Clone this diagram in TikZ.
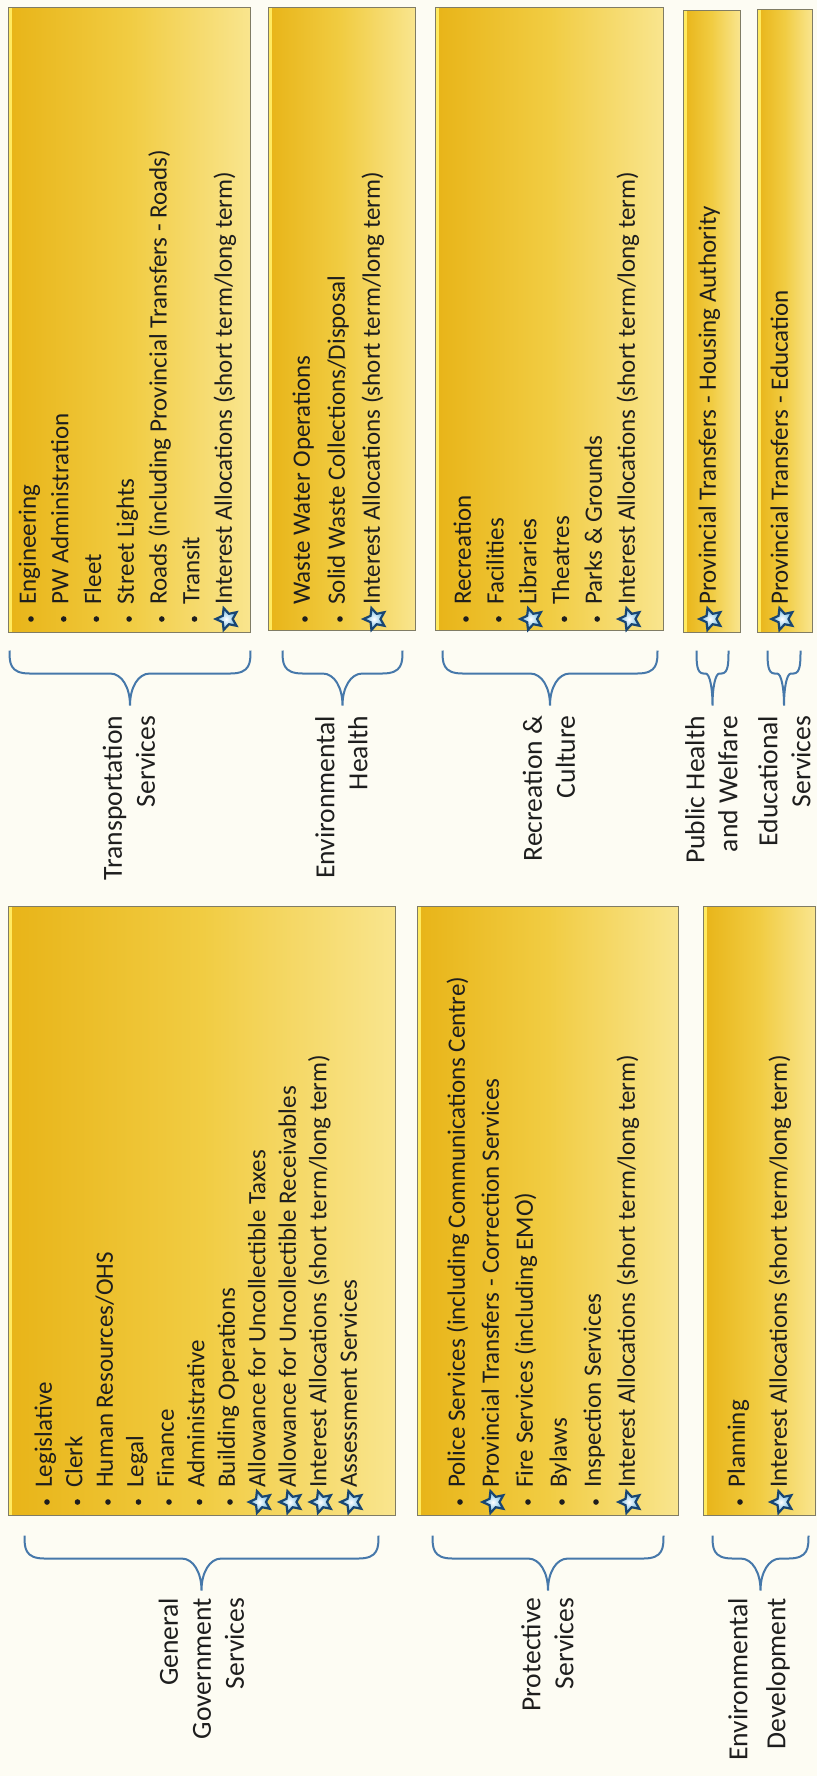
\documentclass[tikz,border=0pt]{standalone}
\usepackage{fontspec}
\setmainfont{Carlito}
\usepackage{xcolor}
\usetikzlibrary{shapes.geometric,fit,positioning,calc}

\definecolor{paper}{RGB}{253,252,243}
\definecolor{golddark}{RGB}{232,180,24}
\definecolor{goldmid}{RGB}{241,204,66}
\definecolor{goldlight}{RGB}{249,229,142}
\definecolor{goldhl}{RGB}{255,234,96}
\definecolor{boxline}{RGB}{128,124,100}
\definecolor{bracecol}{RGB}{70,120,170}
\definecolor{starline}{RGB}{25,70,115}
\definecolor{starfill}{RGB}{110,185,225}
\definecolor{ink}{RGB}{30,30,30}

\tikzset{
	gbox/.style={draw=boxline, line width=0.5pt, inner sep=0pt, left color=golddark, right color=goldlight, middle color=goldmid,
		path picture={\fill[goldhl] (path picture bounding box.north west) rectangle ([xshift=2pt]path picture bounding box.south west);}},
	itm/.style={rotate=90, anchor=mid west, inner sep=0pt, text=ink, font=\fontsize{12.5}{15}\selectfont},
	lbl/.style={rotate=90, align=right, inner sep=0pt, text=ink, font=\fontsize{13.8}{16.5}\selectfont},
	bul/.style={circle, fill=ink, minimum size=2.8pt, inner sep=0pt},
	strm/.style={star, star points=5, star point ratio=2.1, minimum size=11.5pt, inner sep=0pt, draw=starline, line width=1.1pt, inner color=white, outer color=starfill, shape border rotate=90},
	arm/.store in=\armlen, arm=20,
	brc/.style={draw=bracecol, line width=1pt, to path={
		.. controls +(0,12) and +(\armlen,0) .. ($(\tikztostart)+(-\armlen,23)$)
		-- ($(\tikztostart)!.5!(\tikztotarget)+(\armlen,23)$)
		.. controls +(-0.6*\armlen,0) and +(0,-18) .. ($(\tikztostart)!.5!(\tikztotarget)+(0,55)$)
		.. controls +(0,-18) and +(0.6*\armlen,0) .. ($(\tikztostart)!.5!(\tikztotarget)+(-\armlen,23)$)
		-- ($(\tikztotarget)+(\armlen,23)$)
		.. controls +(-\armlen,0) and +(0,12) .. (\tikztotarget)}}
}

\begin{document}
\begin{tikzpicture}[x=0.5pt, y=-0.5pt]
	\useasboundingbox (0,0) rectangle (817,1776);
	\fill[paper] (0,0) rectangle (817,1776);
	
	\node[gbox, fit={(8,8) (250,632)}] (trbox) {};
	\foreach \m/\t [count=\i from 0] in {bul/Engineering, bul/PW Administration, bul/Fleet, bul/Street Lights, bul/{Roads (including Provincial Transfers - Roads)}, bul/Transit, strm/{Interest Allocations (short term/long term)}}
		\node[itm] (tr\i) at (31+32.7*\i,605) {\t} node[\m] (trm\i) at (31+32.7*\i,619) {};
	
	\node[gbox, fit={(268,8) (415,630)}] (ehbox) {};
	\foreach \m/\t [count=\i from 0] in {bul/Waste Water Operations, bul/{Solid Waste Collections/Disposal}, strm/{Interest Allocations (short term/long term)}}
		\node[itm] (eh\i) at (305+35*\i,605) {\t} node[\m] (ehm\i) at (305+35*\i,619) {};
	
	\node[gbox, fit={(435,8) (663,630)}] (rcbox) {};
	\foreach \m/\t [count=\i from 0] in {bul/Recreation, bul/Facilities, strm/Libraries, bul/Theatres, bul/Parks \& Grounds, strm/{Interest Allocations (short term/long term)}}
		\node[itm] (rc\i) at (466+32.8*\i,605) {\t} node[\m] (rcm\i) at (466+32.8*\i,619) {};
	
	\node[gbox, fit={(683,11) (740,632)}] (phbox) {};
	\node[itm] (ph0) at (711,605) {Provincial Transfers - Housing Authority};
	\node[strm] (phm0) at (711,619) {};
	
	\node[gbox, fit={(757,10) (812,632)}] (edbox) {};
	\node[itm] (ed0) at (783,605) {Provincial Transfers - Education};
	\node[strm] (edm0) at (783,619) {};
	
	\node[gbox, fit={(8,906) (395,1515)}] (ggbox) {};
	\foreach \m/\t [count=\i from 0] in {bul/Legislative, bul/Clerk, bul/{Human Resources/OHS}, bul/Legal, bul/Finance, bul/Administrative, bul/Building Operations, strm/Allowance for Uncollectible Taxes, strm/Allowance for Uncollectible Receivables, strm/{Interest Allocations (short term/long term)}, strm/Assessment Services}
		\node[itm] (gg\i) at (47+30.5*\i,1488) {\t} node[\m] (ggm\i) at (47+30.5*\i,1502) {};
	
	\node[gbox, fit={(417,906) (678,1515)}] (psbox) {};
	\foreach \m/\t [count=\i from 0] in {bul/Police Services (including Communications Centre), strm/Provincial Transfers - Correction Services, bul/Fire Services (including EMO), bul/Bylaws, bul/Inspection Services, strm/{Interest Allocations (short term/long term)}}
		\node[itm] (ps\i) at (460+34*\i,1488) {\t} node[\m] (psm\i) at (460+34*\i,1502) {};
	
	\node[gbox, fit={(703,906) (815,1515)}] (edvbox) {};
	\foreach \m/\t [count=\i from 0] in {bul/Planning, strm/{Interest Allocations (short term/long term)}}
		\node[itm] (edv\i) at (740+42*\i,1488) {\t} node[\m] (edvm\i) at (740+42*\i,1502) {};
	
	\node[lbl, below=41.5pt of trbox, anchor=east] (trlab) {Transportation\\Services};
	\node[lbl, below=42.5pt of ehbox, anchor=east] (ehlab) {Environmental\\Health};
	\node[lbl, below=42.5pt of rcbox, anchor=east] (rclab) {Recreation \&\\Culture};
	\node[lbl, below=41.5pt of phbox, anchor=east] (phlab) {Public Health\\and Welfare};
	\node[lbl, below=41.5pt of edbox, anchor=east] (edlab) {Educational\\Services};
	\node[lbl, below=41pt of ggbox, anchor=east] (gglab) {General\\Government\\Services};
	\node[lbl, below=41pt of psbox, anchor=east] (pslab) {Protective\\Services};
	\node[lbl, below=41pt of edvbox, anchor=east, font=\fontsize{13.8}{19}\selectfont] (edvlab) {Environmental\\Development};
	
	\draw[brc] ([shift={(0,18)}]trbox.south east) to ([shift={(2,18)}]trbox.south west);
	\draw[brc] ([shift={(-13,20)}]ehbox.south east) to ([shift={(15,20)}]ehbox.south west);
	\draw[brc] ([shift={(-6,20)}]rcbox.south east) to ([shift={(8,20)}]rcbox.south west);
	\draw[brc, arm=7] ([shift={(-12,18)}]phbox.south east) to ([shift={(14,18)}]phbox.south west);
	\draw[brc, arm=7] ([shift={(-12,18)}]edbox.south east) to ([shift={(11,18)}]edbox.south west);
	\draw[brc] ([shift={(-17,20)}]ggbox.south east) to ([shift={(17,20)}]ggbox.south west);
	\draw[brc] ([shift={(-15,20)}]psbox.south east) to ([shift={(16,20)}]psbox.south west);
	\draw[brc] ([shift={(-7,20)}]edvbox.south east) to ([shift={(10,20)}]edvbox.south west);
\end{tikzpicture}
\end{document}
